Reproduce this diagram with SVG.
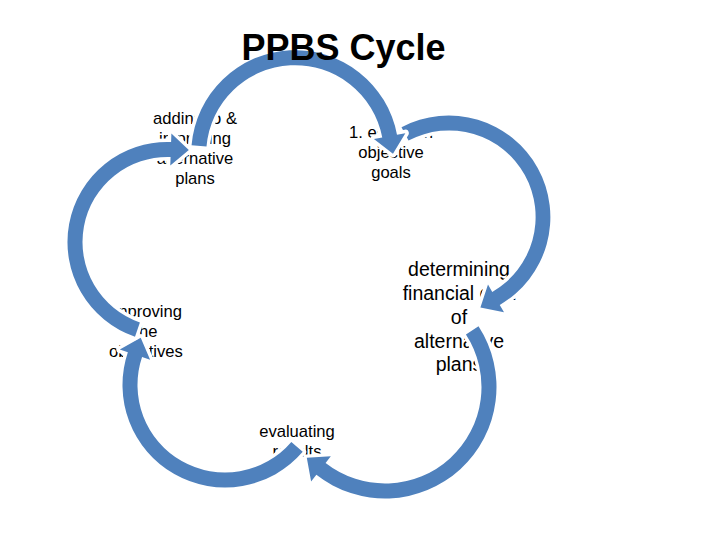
<svg xmlns="http://www.w3.org/2000/svg" width="720" height="540" viewBox="0 0 720 540">
<style>
  .lbl{font-family:"Liberation Sans",Arial,sans-serif;font-size:16.6px;fill:#000;text-anchor:middle}
  .big{font-size:19.5px}
  .arrow{fill:#4F81BD;stroke:#fff;stroke-width:7;stroke-linejoin:round;paint-order:stroke}
  .title{font-family:"Liberation Sans",Arial,sans-serif;font-size:36px;font-weight:bold;text-anchor:middle;fill:#000}
</style>
<rect width="720" height="540" fill="#fff"/>
<g id="node-1">
  <text class="lbl"><tspan x="391" y="138">1. establish</tspan><tspan x="391" y="158">objective</tspan><tspan x="391" y="178">goals</tspan></text>
</g>
<g id="node-2">
  <text class="lbl big"><tspan x="459" y="276">determining</tspan><tspan x="459" y="300">financial cost</tspan><tspan x="459" y="323.5">of</tspan><tspan x="459" y="347.5">alternative</tspan><tspan x="459" y="371">plans</tspan></text>
</g>
<g id="node-3">
  <text class="lbl"><tspan x="297" y="437">evaluating</tspan><tspan x="297" y="457">results</tspan></text>
</g>
<g id="node-4">
  <text class="lbl"><tspan x="146" y="317">improving</tspan><tspan x="146" y="337">the</tspan><tspan x="146" y="357">objectives</tspan></text>
</g>
<g id="node-5">
  <text class="lbl"><tspan x="195" y="124">adding to &amp;</tspan><tspan x="195" y="144">improving</tspan><tspan x="195" y="164">alternative</tspan><tspan x="195" y="184">plans</tspan></text>
</g>
<g id="connectors">
  <path id="arrow-1-2" class="arrow" d="M401.51,127.3 A101.5,101.5 0 0 1 499.75,304.9 L504,312.26 L480.41,307.41 L488,284.55 L492.25,291.91 A86.5,86.5 0 0 0 408.52,140.55 Z"/>
  <path id="arrow-2-3" class="arrow" d="M478.51,326.27 A111.5,111.5 0 0 1 316.35,474.86 L311.12,481.56 L306.79,457.87 L330.82,456.35 L325.59,463.04 A96.5,96.5 0 0 0 465.93,334.44 Z"/>
  <path id="arrow-3-4" class="arrow" d="M302.71,451.84 A102.5,102.5 0 0 1 127.85,352.31 L119.8,349.6 L140.7,337.64 L150.13,359.8 L142.07,357.09 A87.5,87.5 0 0 0 291.34,442.06 Z"/>
  <path id="arrow-4-5" class="arrow" d="M135.01,336.65 A100.1,100.1 0 0 1 171.09,141.96 L171.39,133.47 L188.82,150.09 L170.27,165.45 L170.57,156.95 A85.1,85.1 0 0 0 139.89,322.46 Z"/>
  <path id="arrow-5-1" class="arrow" d="M191.56,145.31 A103.8,103.8 0 0 1 397,134.73 L405.35,133.15 L392.97,153.81 L373.9,139.09 L382.26,137.51 A88.8,88.8 0 0 0 206.51,146.57 Z"/>
</g>
<g id="title">
  <text class="title" x="343.5" y="60">PPBS Cycle</text>
</g>
</svg>
